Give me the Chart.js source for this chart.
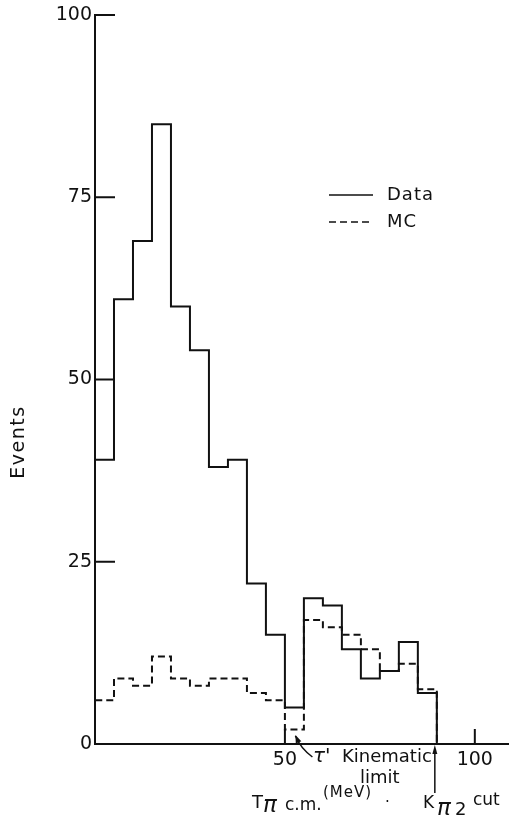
<!DOCTYPE html>
<html>
<head>
<meta charset="utf-8">
<script src="https://cdn.jsdelivr.net/npm/chart.js@4/dist/chart.umd.min.js"></script>
<style>
  html, body { margin: 0; padding: 0; background: #ffffff; }
  #wrap { width: 509px; height: 816px; }
</style>
</head>
<body>
<div id="wrap"><canvas id="c" width="509" height="816"></canvas></div>
<script>
// Pion kinetic energy spectrum, 5 MeV bins from 0 to 90 MeV
const binLow = [0, 5, 10, 15, 20, 25, 30, 35, 40, 45, 50, 55, 60, 65, 70, 75, 80, 85];
const binWidth = 5;
const dataCounts = [39, 61, 69, 85, 60, 54, 38, 39, 22, 15, 5, 20, 19, 13, 9, 10, 14, 7];
const mcCounts   = [6, 9, 8, 12, 9, 8, 9, 9, 7, 6, 2, 17, 16, 15, 13, 10, 11, 7.5];
const seriesNames = ['Data', 'MC'];
const yTicks = [0, 25, 50, 75, 100];
const xTicks = [50, 100];

const INK = '#111111';
const FONT = '"DejaVu Sans", "Liberation Sans", sans-serif';

// outline of a histogram: rise from zero at the first edge, fall back to zero at the last edge
function outline(counts) {
  const pts = [{ x: binLow[0], y: 0 }];
  binLow.forEach((x, i) => pts.push({ x: x, y: counts[i] }));
  pts.push({ x: binLow[binLow.length - 1] + binWidth, y: counts[counts.length - 1] });
  pts.push({ x: binLow[binLow.length - 1] + binWidth, y: 0 });
  return pts;
}

function arrowHead(ctx, tipX, tipY, fromX, fromY, len, half) {
  const a = Math.atan2(tipY - fromY, tipX - fromX);
  ctx.beginPath();
  ctx.moveTo(tipX, tipY);
  ctx.lineTo(tipX - len * Math.cos(a) + half * Math.sin(a), tipY - len * Math.sin(a) - half * Math.cos(a));
  ctx.lineTo(tipX - len * Math.cos(a) - half * Math.sin(a), tipY - len * Math.sin(a) + half * Math.cos(a));
  ctx.closePath();
  ctx.fill();
}

// inward tick marks, legend, axis titles and the two marked limits
const decorations = {
  id: 'decorations',
  afterDraw(chart) {
    const ctx = chart.ctx;
    const xs = chart.scales.x, ys = chart.scales.y;
    const ax = chart.chartArea.left, ay = chart.chartArea.bottom;
    ctx.save();
    ctx.strokeStyle = INK;
    ctx.fillStyle = INK;
    ctx.lineWidth = 2;
    ctx.setLineDash([]);

    yTicks.filter(v => v > 0).forEach(v => {
      const py = ys.getPixelForValue(v);
      ctx.beginPath(); ctx.moveTo(ax, py); ctx.lineTo(ax + 20, py); ctx.stroke();
    });
    xTicks.forEach(v => {
      const px = xs.getPixelForValue(v);
      ctx.beginPath(); ctx.moveTo(px, ay); ctx.lineTo(px, ay - 15); ctx.stroke();
    });

    // legend
    const dsets = chart.data.datasets;
    const legY = [195, 222];
    dsets.forEach((ds, i) => {
      ctx.lineWidth = 1.5;
      ctx.setLineDash(ds.borderDash || []);
      ctx.beginPath(); ctx.moveTo(329, legY[i]); ctx.lineTo(373, legY[i]); ctx.stroke();
      ctx.setLineDash([]);
      ctx.font = '18px ' + FONT;
      ctx.letterSpacing = '1px';
      ctx.textAlign = 'left';
      ctx.textBaseline = 'middle';
      ctx.fillText(ds.label, 387, legY[i]);
    });
    ctx.letterSpacing = '0px';

    // y-axis title
    ctx.save();
    ctx.translate(19, 442);
    ctx.rotate(-Math.PI / 2);
    ctx.font = '19px ' + FONT;
    ctx.letterSpacing = '1.5px';
    ctx.textAlign = 'center';
    ctx.textBaseline = 'middle';
    ctx.fillText('Events', 0, 0);
    ctx.restore();

    ctx.textAlign = 'left';
    ctx.textBaseline = 'alphabetic';

    // x-axis title
    ctx.font = '18px ' + FONT;
    ctx.fillText('T', 252, 808);
    ctx.font = 'italic 23px ' + FONT;
    ctx.fillText('\u03C0', 263, 812);
    ctx.font = '17px ' + FONT;
    ctx.fillText('c.m.', 285, 810);
    ctx.font = '15px ' + FONT;
    ctx.letterSpacing = '1px';
    ctx.fillText('(MeV)', 323, 797);
    ctx.letterSpacing = '0px';
    ctx.fillText('.', 385, 802);

    // tau-prime kinematic limit
    const kinX = xs.getPixelForValue(52.5);
    ctx.lineWidth = 1.5;
    ctx.beginPath();
    ctx.moveTo(kinX + 18, ay + 13);
    ctx.quadraticCurveTo(kinX + 6, ay + 4, kinX + 1, ay - 8);
    ctx.stroke();
    arrowHead(ctx, kinX + 1, ay - 9, kinX + 4, ay - 2, 8, 3);
    ctx.font = 'italic 20px ' + FONT;
    ctx.fillText('\u03C4\'', 313, 762);
    ctx.font = '18px ' + FONT;
    ctx.fillText('Kinematic', 342, 762);
    ctx.fillText('limit', 360, 783);

    // K-pi2 cut
    const cutX = xs.getPixelForValue(binLow[binLow.length - 1] + binWidth) - 2;
    ctx.beginPath(); ctx.moveTo(cutX, 793); ctx.lineTo(cutX, ay + 6); ctx.stroke();
    arrowHead(ctx, cutX, ay + 1, cutX, ay + 12, 9, 2.5);
    ctx.font = '17px ' + FONT;
    ctx.fillText('K', 423, 808);
    ctx.font = 'italic 23px ' + FONT;
    ctx.fillText('\u03C0', 437, 815);
    ctx.font = '18px ' + FONT;
    ctx.fillText('2', 455, 815);
    ctx.font = '17px ' + FONT;
    ctx.fillText('cut', 473, 805);

    ctx.restore();
  }
};

new Chart(document.getElementById('c'), {
  type: 'line',
  data: {
    datasets: [
      {
        label: seriesNames[0],
        data: outline(dataCounts),
        stepped: 'before',
        borderColor: INK,
        borderWidth: 2,
        pointRadius: 0,
        fill: false
      },
      {
        label: seriesNames[1],
        data: outline(mcCounts),
        stepped: 'before',
        borderColor: INK,
        borderWidth: 2,
        borderDash: [7, 4],
        pointRadius: 0,
        fill: false
      }
    ]
  },
  options: {
    responsive: false,
    animation: false,
    devicePixelRatio: 1,
    layout: { padding: { top: 15, right: 0, left: 0, bottom: 0 } },
    plugins: { legend: { display: false }, tooltip: { enabled: false } },
    scales: {
      x: {
        type: 'linear',
        min: 0,
        max: 109,
        grid: { display: false, drawTicks: false },
        border: { display: true, color: INK, width: 2 },
        afterBuildTicks: axis => { axis.ticks = xTicks.map(v => ({ value: v })); },
        afterFit: axis => { axis.height = 72; },
        ticks: {
          color: INK,
          padding: 5,
          maxRotation: 0,
          autoSkip: false,
          font: { family: FONT, size: 19 }
        }
      },
      y: {
        min: 0,
        max: 100,
        grid: { display: false, drawTicks: false },
        border: { display: true, color: INK, width: 2 },
        afterBuildTicks: axis => { axis.ticks = yTicks.map(v => ({ value: v })); },
        afterFit: axis => { axis.width = 95; },
        ticks: {
          color: INK,
          padding: 3,
          font: { family: FONT, size: 19 }
        }
      }
    }
  },
  plugins: [decorations]
});
</script>
</body>
</html>
